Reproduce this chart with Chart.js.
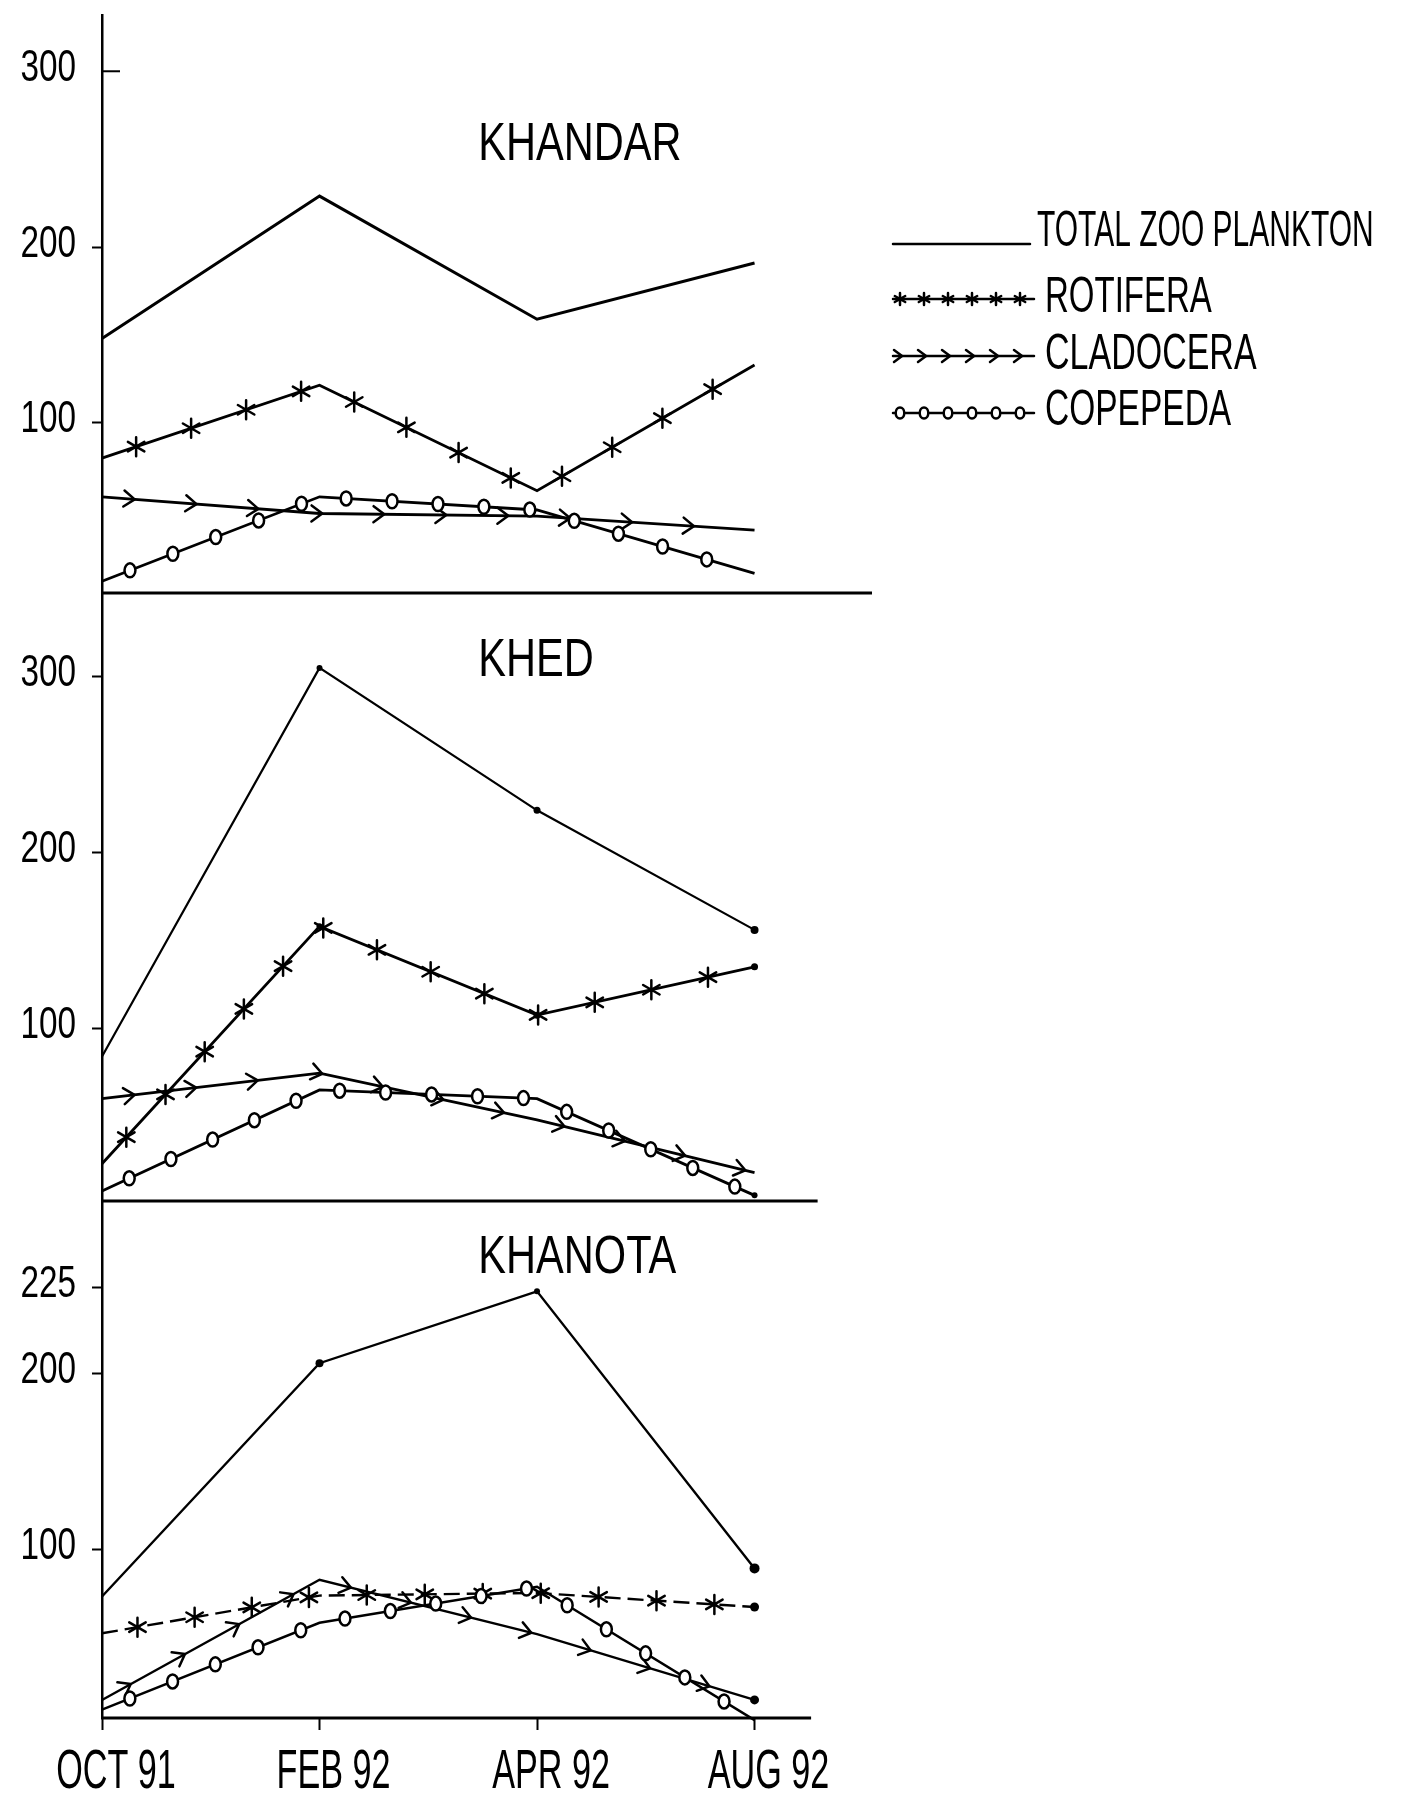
<!DOCTYPE html>
<html>
<head>
<meta charset="utf-8">
<title>Zooplankton - Khandar, Khed, Khanota</title>
<script src="https://cdn.jsdelivr.net/npm/chart.js@4.4.1/dist/chart.umd.min.js"></script>
<style>
  html, body { margin: 0; padding: 0; background: #fff; }
  canvas { display: block; }
</style>
</head>
<body>
<canvas id="plankton" width="1406" height="1801"></canvas>
<script>
// sampling months and the four plankton groups
const months = ['OCT 91', 'FEB 92', 'APR 92', 'AUG 92'];
const groups = ['TOTAL ZOO PLANKTON', 'ROTIFERA', 'CLADOCERA', 'COPEPEDA'];
const stations = ['KHANDAR', 'KHED', 'KHANOTA'];

const khandarTotal = [148, 229, 159, 191];
const khandarRotifera = [80, 121.5, 61.5, 133];
const khandarCladocera = [58, 48.5, 47, 39];
const khandarCopepeda = [10, 58, 50.5, 14.5];

const khedTotal = [84, 305, 224, 156];
const khedRotifera = [23, 158, 107.5, 135];
const khedCladocera = [60, 74.5, 48, 18];
const khedCopepeda = [7.5, 65, 60, 5];

const khanotaTotal = [73, 206, 247, 89];
const khanotaRotifera = [52, 73.5, 75, 67];
const khanotaCladocera = [14, 82.5, 51.5, 14];
const khanotaCopepeda = [8.5, 58, 78.5, 2.5];

const khandarTicks = [100, 200, 300];
const khandarTickLabels = ['100', '200', '300'];
const khedTicks = [100, 200, 300];
const khedTickLabels = ['100', '200', '300'];
const khanotaTicks = [100, 200, 249];
const khanotaTickLabels = ['100', '200', '225'];

const FONT = '"Liberation Sans", Arial, sans-serif';

// one stacked y axis per station, top to bottom
const panels = [
  { id: 'yKhandar', name: stations[0], series: [khandarTotal, khandarRotifera, khandarCladocera, khandarCopepeda],
    ticks: khandarTicks, labels: khandarTickLabels, min: 3.3, max: 332, height: 578, order: 3,
    baseEnd: 3.54, title: [1.73, 258], totalWidth: 3, lineWidth: 2.8, dots: [[], [], [], []] },
  { id: 'yKhed', name: stations[1], series: [khedTotal, khedRotifera, khedCladocera, khedCopepeda],
    ticks: khedTicks, labels: khedTickLabels, min: 1.8, max: 347.6, height: 608, order: 2,
    baseEnd: 3.29, title: [1.73, 309], totalWidth: 2.2, lineWidth: 2.8,
    dots: [[0, 3, 3.5, 4], [0, 3, 3.5, 3.5], [], [0, 0, 0, 3]] },
  { id: 'yKhanota', name: stations[2], series: [khanotaTotal, khanotaRotifera, khanotaCladocera, khanotaCopepeda],
    ticks: khanotaTicks, labels: khanotaTickLabels, min: 3.7, max: 298.5, height: 517, order: 1,
    baseEnd: 3.26, title: [1.73, 266], totalWidth: 2.4, lineWidth: 2.4,
    dots: [[0, 4, 3, 5], [0, 0, 0, 4.5], [0, 0, 0, 4.5], []] }
];

const marks = [
  { glyph: null },
  { glyph: 'star', gap: 58, start: 36, size: 9.5 },
  { glyph: 'arrow', gap: 62, start: 30, size: 8 },
  { glyph: 'circle', gap: 46, start: 30, size: 7 }
];

const datasets = [];
panels.forEach(p => {
  p.series.forEach((vals, k) => {
    datasets.push({
      label: groups[k] + ' ' + p.name,
      yAxisID: p.id,
      data: vals.map((v, i) => ({ x: i, y: v })),
      borderColor: '#000',
      backgroundColor: '#000',
      borderWidth: k === 0 ? p.totalWidth : p.lineWidth,
      borderDash: (p.id === 'yKhanota' && k === 1) ? [16, 7] : [],
      pointRadius: p.dots[k].length ? p.dots[k] : 0,
      pointBorderWidth: 0,
      tension: 0,
      clip: false,
      glyph: marks[k].glyph,
      glyphGap: marks[k].gap,
      glyphStart: marks[k].start,
      glyphSize: marks[k].size
    });
  });
});

function drawGlyph(ctx, kind, x, y, angle, size) {
  ctx.save();
  ctx.translate(x, y);
  ctx.beginPath();
  if (kind === 'star') {
    for (let a = 0; a < 3; a++) {
      const t = Math.PI / 2 + a * Math.PI / 3;
      ctx.moveTo(Math.cos(t) * size, Math.sin(t) * size);
      ctx.lineTo(-Math.cos(t) * size, -Math.sin(t) * size);
    }
    ctx.stroke();
  } else if (kind === 'arrow') {
    ctx.rotate(angle);
    ctx.moveTo(-size, -size);
    ctx.lineTo(size * 0.35, 0);
    ctx.lineTo(-size, size);
    ctx.stroke();
  } else if (kind === 'circle') {
    ctx.ellipse(0, 0, size * 0.78, size, 0, 0, Math.PI * 2);
    ctx.fillStyle = '#fff';
    ctx.fill();
    ctx.stroke();
  }
  ctx.restore();
}

// walk a polyline and drop a glyph every `gap` pixels
function placeAlong(ctx, pts, kind, gap, start, size) {
  let carry = start;
  for (let i = 0; i < pts.length - 1; i++) {
    const [x0, y0] = pts[i];
    const [x1, y1] = pts[i + 1];
    const len = Math.hypot(x1 - x0, y1 - y0);
    const ang = Math.atan2(y1 - y0, x1 - x0);
    let d = carry;
    while (d <= len - 4) {
      const t = d / len;
      drawGlyph(ctx, kind, x0 + (x1 - x0) * t, y0 + (y1 - y0) * t, ang, size);
      d += gap;
    }
    carry = Math.max(d - len, 0);
  }
}

function squeezedText(ctx, text, x, y, size, squeeze, align) {
  ctx.save();
  ctx.font = size + 'px ' + FONT;
  ctx.textBaseline = 'middle';
  ctx.textAlign = align;
  ctx.fillStyle = '#000';
  ctx.translate(x, y);
  ctx.scale(squeeze, 1);
  ctx.fillText(text, 0, 0);
  ctx.restore();
}

const decorations = {
  id: 'decorations',
  beforeDatasetsDraw(chart) {
    const ctx = chart.ctx;
    const xs = chart.scales.x;
    ctx.save();
    ctx.strokeStyle = '#000';
    ctx.lineWidth = 3;
    panels.forEach(p => {
      const ys = chart.scales[p.id];
      const y = ys.getPixelForValue(p.min);
      ctx.beginPath();
      ctx.moveTo(xs.left - 1, y);
      ctx.lineTo(xs.getPixelForValue(p.baseEnd), y);
      ctx.stroke();
    });
    // the top mark of the first panel points into the plot
    const top = chart.scales.yKhandar;
    const y300 = top.getPixelForValue(khandarTicks[2]);
    ctx.lineWidth = 2;
    ctx.beginPath();
    ctx.moveTo(top.right, y300);
    ctx.lineTo(top.right + 18, y300);
    ctx.stroke();
    ctx.restore();
  },
  afterDatasetsDraw(chart) {
    const ctx = chart.ctx;
    const xs = chart.scales.x;
    ctx.save();
    ctx.strokeStyle = '#000';
    ctx.lineWidth = 2.5;
    ctx.lineCap = 'round';
    ctx.lineJoin = 'round';
    chart.data.datasets.forEach((ds, i) => {
      if (!ds.glyph) return;
      const pts = chart.getDatasetMeta(i).data.map(pt => [pt.x, pt.y]);
      placeAlong(ctx, pts, ds.glyph, ds.glyphGap, ds.glyphStart, ds.glyphSize);
    });

    // station names and y tick labels
    panels.forEach(p => {
      const ys = chart.scales[p.id];
      squeezedText(ctx, p.name, xs.getPixelForValue(p.title[0]), ys.getPixelForValue(p.title[1]), 54, 0.77, 'left');
      ys.ticks.forEach((t, j) => {
        squeezedText(ctx, p.labels[j], 76, ys.getPixelForValue(t.value) - 3, 45, 0.74, 'right');
      });
    });

    // month labels under the bottom axis
    xs.ticks.forEach((t, i) => {
      squeezedText(ctx, months[i], xs.getPixelForValue(t.value) + 14, 1773, 56, 0.61, 'center');
    });

    // legend beside the top panel
    const rows = [244, 299, 356, 413];
    const textY = [232, 298, 355, 411];
    const squeeze = [0.6, 0.66, 0.68, 0.67];
    const legendMarks = [null, 'star', 'arrow', 'circle'];
    rows.forEach((y, k) => {
      ctx.lineWidth = 2.5;
      ctx.beginPath();
      ctx.moveTo(893, y);
      ctx.lineTo(k === 0 ? 1030 : 1034, y);
      ctx.stroke();
      if (legendMarks[k]) {
        placeAlong(ctx, [[893, y], [1034, y]], legendMarks[k], 24, 7, k === 3 ? 5.5 : 6);
      }
      squeezedText(ctx, groups[k], k === 0 ? 1037 : 1045, textY[k], 50, squeeze[k], 'left');
    });
    ctx.restore();
  }
};

const scales = {
  x: {
    type: 'linear',
    min: 0,
    max: 3.54,
    bounds: 'data',
    afterBuildTicks: s => { s.ticks = months.map((m, i) => ({ value: i })); },
    afterFit: s => { s.height = 83; },
    border: { display: false },
    grid: { drawOnChartArea: false, drawTicks: true, tickLength: 12, tickWidth: 2, tickColor: '#000' },
    ticks: { display: false }
  }
};
panels.forEach(p => {
  const topTick = p.ticks[p.ticks.length - 1];
  scales[p.id] = {
    type: 'linear',
    position: 'left',
    stack: 'stations',
    stackWeight: p.height,
    weight: p.order,
    min: p.min,
    max: p.max,
    bounds: 'data',
    afterBuildTicks: s => { s.ticks = p.ticks.map(v => ({ value: v })); },
    afterFit: s => { s.width = 102; },
    border: { display: true, color: '#000', width: 2.5 },
    grid: {
      drawOnChartArea: false,
      drawTicks: true,
      tickLength: 10,
      tickWidth: 2,
      // KHANDAR's 300 mark is drawn inward by the plugin instead
      tickColor: c => (p.id === 'yKhandar' && c.tick && c.tick.value === topTick) ? 'rgba(0,0,0,0)' : '#000'
    },
    ticks: { display: false }
  };
});

new Chart(document.getElementById('plankton'), {
  type: 'line',
  data: { datasets },
  options: {
    responsive: false,
    animation: false,
    devicePixelRatio: 1,
    layout: { padding: { left: 0, top: 15, right: 534, bottom: 0 } },
    scales,
    plugins: {
      legend: { display: false },
      tooltip: { enabled: false }
    }
  },
  plugins: [decorations]
});
</script>
</body>
</html>
